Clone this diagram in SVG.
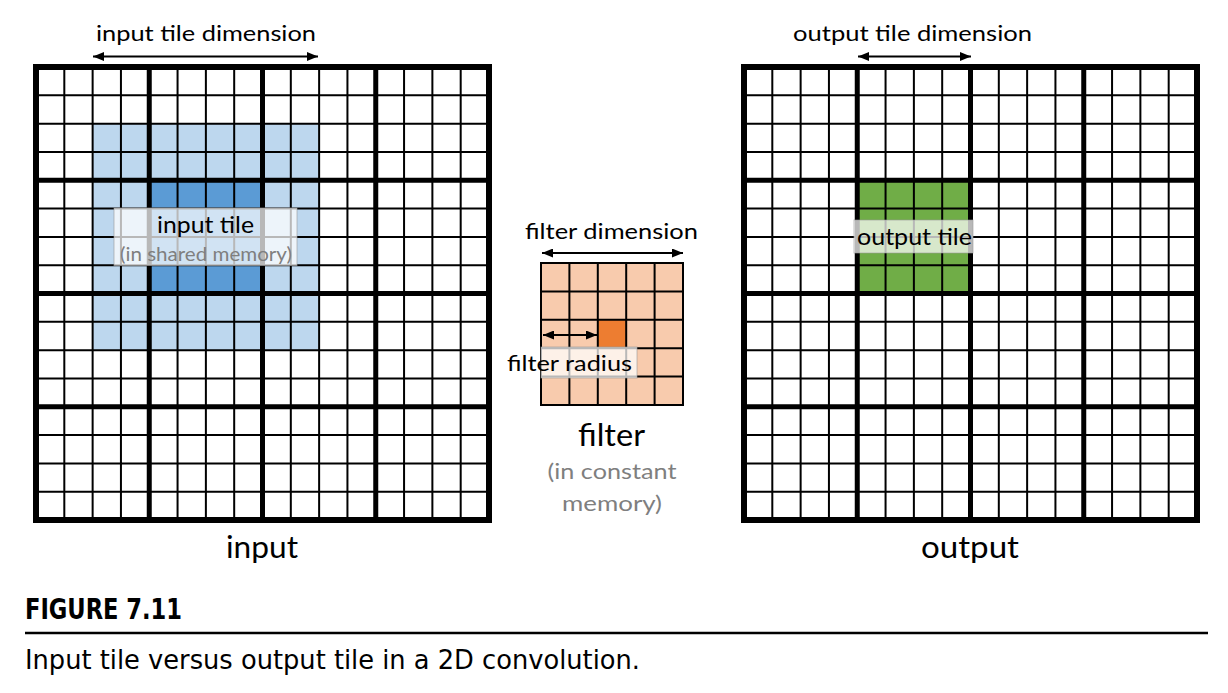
<svg xmlns="http://www.w3.org/2000/svg" xmlns:xlink="http://www.w3.org/1999/xlink" width="1228" height="693" viewBox="0 0 1228 693">
<style>
.thin{stroke:#000;stroke-width:2;fill:none}
.thick{stroke:#000;stroke-width:5;fill:none}
.outer{stroke:#000;stroke-width:6;fill:none}
.lbl{font-family:Lato,"Open Sans","Liberation Sans",sans-serif;fill:#000}
.gray{fill:#7f7f7f}
.box{fill:#fff;fill-opacity:0.72;stroke:#9a9a9a;stroke-opacity:0.6;stroke-width:1}
.arrow{stroke:#000;stroke-width:2;fill:none;marker-start:url(#ah);marker-end:url(#ah)}
.cap{font-family:"Liberation Sans Narrow","DejaVu Sans Condensed","Liberation Sans",sans-serif;fill:#000}
</style>
<defs>
<marker id="ah" markerUnits="userSpaceOnUse" markerWidth="11" markerHeight="9" refX="11" refY="4.5" orient="auto-start-reverse" viewBox="0 0 11 9">
<path d="M0,0 L11,4.5 L0,9 z" fill="#000"/>
</marker>
<g id="gridlines">
<path class="thin" d="M28.31,0V453M56.63,0V453M84.94,0V453M141.56,0V453M169.88,0V453M198.19,0V453M254.81,0V453M283.13,0V453M311.44,0V453M368.06,0V453M396.38,0V453M424.69,0V453M0,28.31H453M0,56.63H453M0,84.94H453M0,141.56H453M0,169.88H453M0,198.19H453M0,254.81H453M0,283.13H453M0,311.44H453M0,368.06H453M0,396.38H453M0,424.69H453"/>
<path class="thick" d="M113.25,0V453M226.5,0V453M339.75,0V453M0,113.25H453M0,226.5H453M0,339.75H453"/>
<rect class="outer" x="0" y="0" width="453" height="453"/>
</g>
</defs>
<rect width="1228" height="693" fill="#fff"/>

<g id="input-grid">
<rect x="92.63" y="123.63" width="226.5" height="226.5" fill="#BDD7EE"/>
<rect x="149.25" y="180.25" width="113.25" height="113.25" fill="#5B9BD5"/>
<use xlink:href="#gridlines" x="36" y="67"/>
</g>

<g id="output-grid">
<rect x="857.25" y="180.25" width="113.25" height="113.25" fill="#70AD47"/>
<use xlink:href="#gridlines" x="744" y="67"/>
</g>

<g id="filter-grid">
<rect x="541" y="263" width="142" height="142" fill="#F8CBAD"/>
<rect x="597.8" y="319.8" width="28.4" height="28.4" fill="#ED7D31"/>
<path class="thin" d="M569.4,263V405M597.8,263V405M626.2,263V405M654.6,263V405M541,291.4H683M541,319.8H683M541,348.2H683M541,376.6H683"/>
<rect class="thin" x="541" y="263" width="142" height="142"/>
</g>

<g id="connectors">
<line class="arrow" x1="93" y1="56.5" x2="318" y2="56.5"/>
<line class="arrow" x1="858" y1="56.5" x2="971" y2="56.5"/>
<line class="arrow" x1="542" y1="253" x2="683" y2="253"/>
<line class="arrow" x1="543" y1="335" x2="597" y2="335"/>
</g>

<g id="input-tile-label">
<rect class="box" x="114" y="208" width="183" height="57.5"/>
<text class="lbl" x="205.5" y="233" font-size="23" text-anchor="middle" textLength="97" lengthAdjust="spacingAndGlyphs">input tile</text>
<text class="lbl gray" x="206" y="261" font-size="19" text-anchor="middle" textLength="172" lengthAdjust="spacingAndGlyphs">(in shared memory)</text>
</g>

<g id="output-tile-label">
<rect class="box" x="854" y="220" width="119" height="33"/>
<text class="lbl" x="914.5" y="245" font-size="23" text-anchor="middle" textLength="115" lengthAdjust="spacingAndGlyphs">output tile</text>
</g>

<g id="filter-radius-label">
<rect class="box" x="541" y="347" width="96" height="31"/>
<text class="lbl" x="507" y="371" font-size="22" textLength="125" lengthAdjust="spacingAndGlyphs">filter radius</text>
</g>

<g id="dimension-labels">
<text class="lbl" x="206" y="41" font-size="22" text-anchor="middle" textLength="220" lengthAdjust="spacingAndGlyphs">input tile dimension</text>
<text class="lbl" x="912.5" y="41" font-size="22" text-anchor="middle" textLength="239" lengthAdjust="spacingAndGlyphs">output tile dimension</text>
<text class="lbl" x="611.5" y="239" font-size="22" text-anchor="middle" textLength="173" lengthAdjust="spacingAndGlyphs">filter dimension</text>
</g>

<g id="titles">
<text class="lbl" x="262" y="558" font-size="30" text-anchor="middle" textLength="72" lengthAdjust="spacingAndGlyphs">input</text>
<text class="lbl" x="970" y="558" font-size="30" text-anchor="middle" textLength="98" lengthAdjust="spacingAndGlyphs">output</text>
<text class="lbl" x="611.5" y="446" font-size="30" text-anchor="middle" textLength="67" lengthAdjust="spacingAndGlyphs">filter</text>
<text class="lbl gray" x="612" y="479" font-size="22" text-anchor="middle" textLength="129" lengthAdjust="spacingAndGlyphs">(in constant</text>
<text class="lbl gray" x="612" y="511" font-size="22" text-anchor="middle" textLength="100" lengthAdjust="spacingAndGlyphs">memory)</text>
</g>

<g id="caption">
<text class="cap" x="25" y="619" font-size="29" font-weight="bold" textLength="157" lengthAdjust="spacingAndGlyphs">FIGURE 7.11</text>
<line x1="25" y1="633" x2="1208" y2="633" stroke="#000" stroke-width="2.5"/>
<text class="cap" x="25" y="669" font-size="26" textLength="615" lengthAdjust="spacingAndGlyphs">Input tile versus output tile in a 2D convolution.</text>
</g>
</svg>
